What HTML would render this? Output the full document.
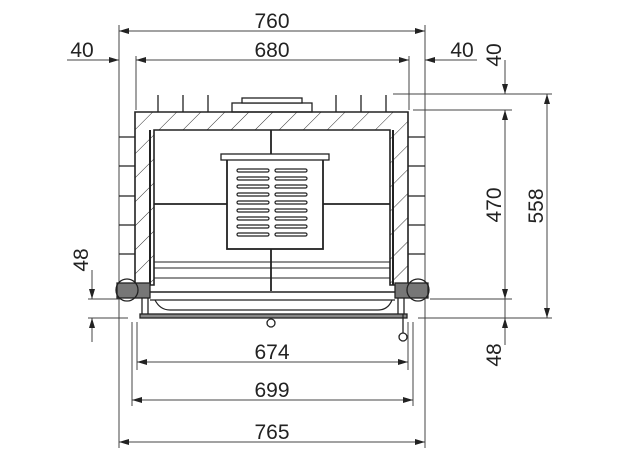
<!DOCTYPE html>
<html><head><meta charset="utf-8"><style>
html,body{margin:0;padding:0;background:#fff}
svg{display:block}
text{font-family:"Liberation Sans",sans-serif;font-size:21px;fill:#222}
</style></head><body>
<svg width="624" height="460" viewBox="0 0 624 460" xmlns="http://www.w3.org/2000/svg">
<defs>
<pattern id="h" width="17" height="17" patternUnits="userSpaceOnUse" patternTransform="rotate(45)">
<line x1="0" y1="0" x2="0" y2="17" stroke="#333" stroke-width="1"/>
</pattern>
<marker id="a" viewBox="0 0 10 6" refX="10" refY="3" markerWidth="10" markerHeight="6" orient="auto-start-reverse" markerUnits="userSpaceOnUse">
<path d="M0,0 L10,3 L0,6 z" fill="#222"/></marker>
</defs>
<g stroke="#444" stroke-width="1" fill="none">
<line x1="119" y1="25" x2="119" y2="448"/>
<line x1="425" y1="25" x2="425" y2="448"/>
<line x1="136" y1="56" x2="136" y2="110"/>
<line x1="409" y1="56" x2="409" y2="110"/>
<line x1="393" y1="94" x2="552" y2="94"/>
<line x1="413" y1="110" x2="512" y2="110"/>
<line x1="430" y1="299" x2="512" y2="299"/>
<line x1="418" y1="318" x2="552" y2="318"/>
<line x1="88" y1="299" x2="120" y2="299"/>
<line x1="88" y1="318" x2="128" y2="318"/>
<line x1="137" y1="322" x2="137" y2="370"/>
<line x1="408" y1="322" x2="408" y2="370"/>
<line x1="132" y1="322" x2="132" y2="406"/>
<line x1="413" y1="322" x2="413" y2="406"/>
<line x1="119" y1="31" x2="425" y2="31" marker-start="url(#a)" marker-end="url(#a)"/>
<line x1="136" y1="60" x2="409" y2="60" marker-start="url(#a)" marker-end="url(#a)"/>
<line x1="67" y1="60" x2="119" y2="60" marker-end="url(#a)"/>
<line x1="477" y1="60" x2="425" y2="60" marker-end="url(#a)"/>
<line x1="505" y1="60" x2="505" y2="94" marker-end="url(#a)"/>
<line x1="505" y1="110" x2="505" y2="299" marker-start="url(#a)" marker-end="url(#a)"/>
<line x1="505" y1="299" x2="505" y2="318"/>
<line x1="505" y1="345" x2="505" y2="318" marker-end="url(#a)"/>
<line x1="547" y1="94" x2="547" y2="318" marker-start="url(#a)" marker-end="url(#a)"/>
<line x1="92" y1="270" x2="92" y2="299" marker-end="url(#a)"/>
<line x1="92" y1="342" x2="92" y2="318" marker-end="url(#a)"/>
<line x1="137" y1="362" x2="408" y2="362" marker-start="url(#a)" marker-end="url(#a)"/>
<line x1="132" y1="400" x2="413" y2="400" marker-start="url(#a)" marker-end="url(#a)"/>
<line x1="119" y1="442" x2="425" y2="442" marker-start="url(#a)" marker-end="url(#a)"/>
</g>
<text x="272" y="28" text-anchor="middle">760</text>
<text x="272" y="57" text-anchor="middle">680</text>
<text x="82" y="57" text-anchor="middle">40</text>
<text x="462" y="57" text-anchor="middle">40</text>
<text x="272" y="359" text-anchor="middle">674</text>
<text x="272" y="397" text-anchor="middle">699</text>
<text x="272" y="439" text-anchor="middle">765</text>
<text transform="translate(501,55) rotate(-90)" text-anchor="middle">40</text>
<text transform="translate(501,205) rotate(-90)" text-anchor="middle">470</text>
<text transform="translate(543,206) rotate(-90)" text-anchor="middle">558</text>
<text transform="translate(88,260) rotate(-90)" text-anchor="middle">48</text>
<text transform="translate(501,355) rotate(-90)" text-anchor="middle">48</text>

<g stroke="#222" stroke-width="1.3" fill="none">
<path d="M158,95V112M183,95V112M208,95V112M336,95V112M361,95V112M386,95V112"/>
<path d="M119,137H135M119,166H135M119,196H135M119,225H135M119,254H135"/>
<path d="M408,137H425M408,166H425M408,196H425M408,225H425M408,254H425"/>
<rect x="232" y="103" width="80" height="9" fill="#fff"/>
<rect x="242" y="98" width="60" height="5" fill="#fff"/>
<path d="M135,112H408V285H390V130H154V285H135Z" fill="url(#h)" stroke-width="1.6"/>
<line x1="150" y1="130" x2="150" y2="285" stroke-width="2"/>
<line x1="393" y1="130" x2="393" y2="285" stroke-width="2"/>
<line x1="154" y1="204" x2="227" y2="204" stroke-width="1.8"/>
<line x1="323" y1="204" x2="390" y2="204" stroke-width="1.8"/>
<line x1="271" y1="130" x2="271" y2="157" stroke-width="1.8"/>
<line x1="271" y1="249" x2="271" y2="291" stroke-width="1.8"/>
<rect x="227" y="157" width="96" height="92" fill="#fff" stroke-width="1.8"/>
<rect x="221" y="154" width="108" height="6" fill="#fff"/>
<g stroke-width="1.2">
<rect x="237" y="169" width="32" height="3" rx="1.5"/><rect x="275" y="169" width="32" height="3" rx="1.5"/>
<rect x="237" y="177" width="32" height="3" rx="1.5"/><rect x="275" y="177" width="32" height="3" rx="1.5"/>
<rect x="237" y="185" width="32" height="3" rx="1.5"/><rect x="275" y="185" width="32" height="3" rx="1.5"/>
<rect x="237" y="193" width="32" height="3" rx="1.5"/><rect x="275" y="193" width="32" height="3" rx="1.5"/>
<rect x="237" y="201" width="32" height="3" rx="1.5"/><rect x="275" y="201" width="32" height="3" rx="1.5"/>
<rect x="237" y="209" width="32" height="3" rx="1.5"/><rect x="275" y="209" width="32" height="3" rx="1.5"/>
<rect x="237" y="217" width="32" height="3" rx="1.5"/><rect x="275" y="217" width="32" height="3" rx="1.5"/>
<rect x="237" y="225" width="32" height="3" rx="1.5"/><rect x="275" y="225" width="32" height="3" rx="1.5"/>
<rect x="237" y="233" width="32" height="3" rx="1.5"/><rect x="275" y="233" width="32" height="3" rx="1.5"/>
</g>
<path d="M154,262H390M154,268H390M154,278H390" stroke-width="1"/>
<path d="M150,292H395" stroke-width="1.5"/>
<path d="M150,300H395" stroke-width="1.2"/>
<path d="M155,300 Q160,310 170,310 H378 Q388,310 392,300" stroke-width="1.2"/>
<rect x="140" y="314" width="267" height="4" fill="#888"/>
<rect x="117" y="283" width="33" height="15" fill="#777"/>
<circle cx="127" cy="290" r="11"/>
<rect x="395" y="283" width="33" height="15" fill="#777"/>
<circle cx="418" cy="290" r="11"/>
<path d="M142,298V314M148,298V314M398,298V314M404,298V314"/>
<circle cx="271" cy="323" r="4"/>
<line x1="403" y1="314" x2="403" y2="333"/>
<circle cx="403" cy="337" r="4"/>
</g>
</svg>
</body></html>
